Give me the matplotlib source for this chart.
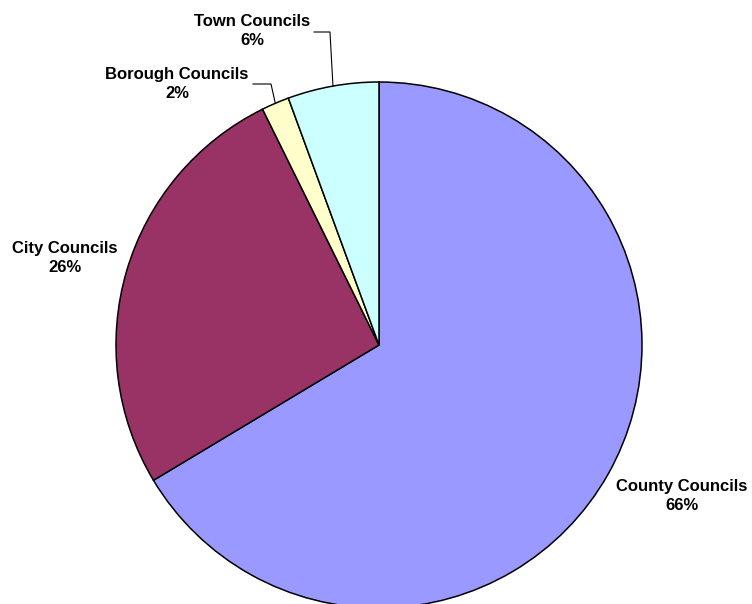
import matplotlib.pyplot as plt
import numpy as np

plt.rcParams["font.family"] = ["Liberation Sans", "DejaVu Sans"]

names = ["County Councils", "City Councils", "Borough Councils", "Town Councils"]
shares = [66.4, 26.3, 1.7, 5.6]
colors = ["#9999FF", "#993366", "#FFFFCC", "#CCFFFF"]

W, H = 752, 604
cx, cy, r = 379, 345, 263


def to_data(px, py):
    return (px - cx) / r, (cy - py) / r


fig = plt.figure(figsize=(W / 100, H / 100), dpi=100)
ax = fig.add_axes([(cx - r) / W, (H - cy - r) / H, 2 * r / W, 2 * r / H])
ax.axis("off")

wedges, _ = ax.pie(shares, colors=colors, startangle=90, counterclock=False,
                   radius=1, wedgeprops=dict(edgecolor="black", linewidth=1.1))
ax.set_xlim(-1, 1)
ax.set_ylim(-1, 1)

# label centres in pixels, and the elbow of the leader line where there is one
label_px = [(682, 496), (65, 258), (177, 84), (252, 31)]
leaders = {2: [(253, 84), (271, 84)], 3: [(314, 32), (330, 32)]}

for i, (w, name, v) in enumerate(zip(wedges, names, shares)):
    x, y = to_data(*label_px[i])
    ax.text(x, y, f"{name}\n{v:.0f}%", ha="center", va="center",
            fontsize=12, fontweight="bold", linespacing=1.4, clip_on=False)
    if i in leaders:
        mid = np.deg2rad((w.theta1 + w.theta2) / 2)
        pts = [to_data(*p) for p in leaders[i]]
        pts.append((np.cos(mid), np.sin(mid)))
        xs, ys = zip(*pts)
        ax.plot(xs, ys, color="black", linewidth=0.8, clip_on=False)

fig.savefig("out.png", dpi=100)
